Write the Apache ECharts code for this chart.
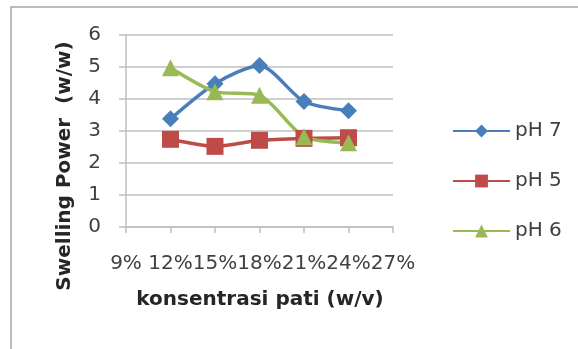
<!DOCTYPE html>
<html><head><meta charset="utf-8">
<script src="https://cdn.jsdelivr.net/npm/echarts@6/dist/echarts.min.js"></script>
<style>html,body{margin:0;padding:0;background:#fff}#c{width:578px;height:349px}</style>
</head><body><div id="c"></div>
<script>
const concentrations = [12, 15, 18, 21, 24];
const xTicks = [9, 12, 15, 18, 21, 24, 27];
const yTicks = [0, 1, 2, 3, 4, 5, 6];
const ph7 = [3.38, 4.48, 5.05, 3.92, 3.63];
const ph5 = [2.74, 2.52, 2.71, 2.77, 2.79];
const ph6 = [4.98, 4.23, 4.12, 2.82, 2.63];
const seriesNames = ['pH 7', 'pH 5', 'pH 6'];
const xTitle = 'konsentrasi pati (w/v)';
const yTitle = 'Swelling Power  (w/w)';

const font = '"DejaVu Sans", "Liberation Sans", sans-serif';
function pairs(v){ return concentrations.map((c,i)=>[c, v[i]]); }
const chart = echarts.init(document.getElementById('c'), null, {renderer:'canvas'});
const mk = (name, data, color, symbol, size) => ({
  name, type:'line', data:pairs(data), smooth:0.25,
  symbol, symbolSize:size,
  lineStyle:{color, width:3.5},
  itemStyle:{color},
  emphasis:{disabled:true}
});
chart.setOption({
  animation:false,
  textStyle:{fontFamily:font},
  graphic:[
    {type:'rect', shape:{x:11,y:7,width:700,height:500}, style:{fill:'none', stroke:'#a6a6a6', lineWidth:1.5}, silent:true},
    {type:'text', x:260, y:300, style:{text:xTitle, font:'bold 20px "DejaVu Sans"', fill:'#262626', align:'center', verticalAlign:'middle'}, silent:true},
    {type:'text', x:65, y:166, rotation:Math.PI/2, style:{text:yTitle, font:'bold 20px "DejaVu Sans"', fill:'#262626', align:'center', verticalAlign:'middle'}, silent:true}
  ],
  grid:{left:126, right:185, top:35, bottom:122},
  xAxis:{type:'value', min:xTicks[0], max:xTicks[xTicks.length-1], interval:3,
    axisLine:{lineStyle:{color:'#bfbfbf', width:1.5}},
    axisTick:{show:true, length:6, lineStyle:{color:'#bfbfbf', width:1.5}},
    axisLabel:{formatter:'{value}%', fontSize:20, color:'#404040', margin:27},
    splitLine:{show:false}},
  yAxis:{type:'value', min:yTicks[0], max:yTicks[yTicks.length-1], interval:1,
    axisLine:{show:true, lineStyle:{color:'#bfbfbf', width:1.5}},
    axisTick:{show:true, length:7, lineStyle:{color:'#bfbfbf', width:1.5}},
    axisLabel:{fontSize:20, color:'#404040', margin:25},
    splitLine:{lineStyle:{color:'#bfbfbf', width:1.5}}},
  legend:{orient:'vertical', left:447, top:116, itemGap:30, itemWidth:57, itemHeight:16,
    textStyle:{fontSize:20, color:'#404040', fontFamily:font}, data:seriesNames},
  series:[
    mk(seriesNames[0], ph7, '#4a7ebb', 'diamond', 17),
    mk(seriesNames[1], ph5, '#be4b48', 'rect', 17),
    mk(seriesNames[2], ph6, '#98b954', 'triangle', 17)
  ]
});
</script></body></html>
